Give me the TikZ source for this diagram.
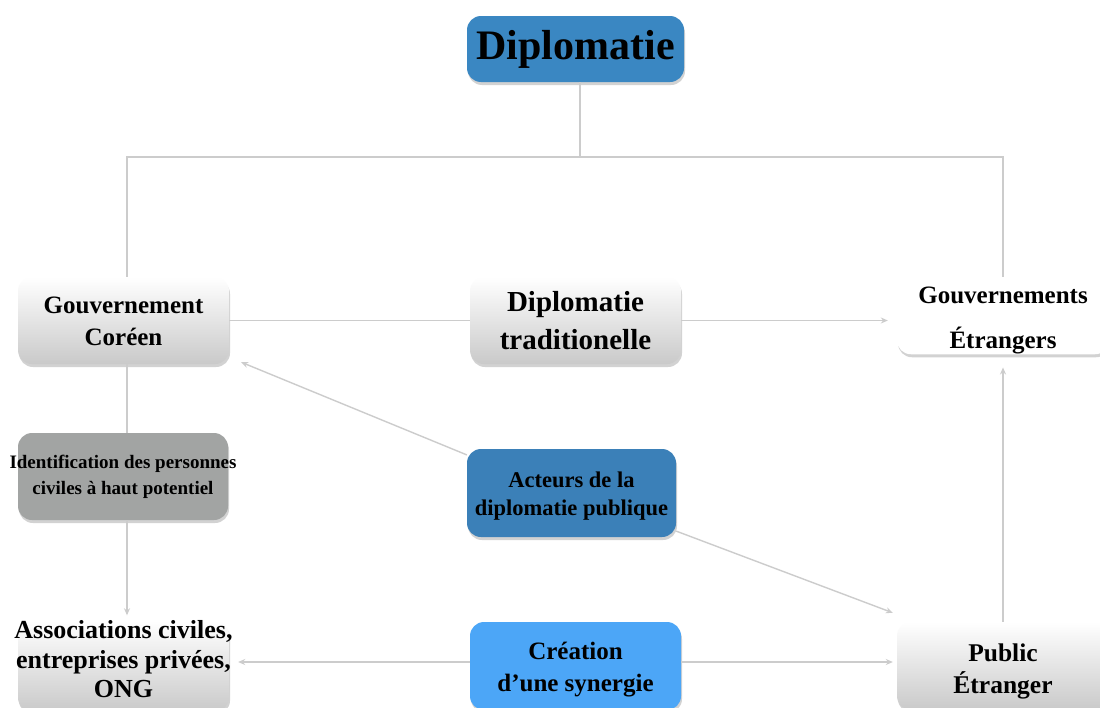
\documentclass[tikz,border=0pt]{standalone}
\usepackage{fontspec}
\setmainfont{Liberation Serif}
\usetikzlibrary{shadows,calc,arrows.meta}
\definecolor{lineg}{HTML}{CCCCCC}
\definecolor{blueA}{HTML}{3A87C2}
\definecolor{blueB}{HTML}{3B80B8}
\definecolor{blueC}{HTML}{4CA6F7}
\definecolor{greyI}{HTML}{A2A4A3}
\newcommand\ovr[1]{\makebox[0pt]{#1}}
\newcommand\dnstrut[1]{\rule{0pt}{#1}}
\newcommand\upstrut[1]{\rule[-#1]{0pt}{0pt}}
\begin{document}
\begin{tikzpicture}[x=1pt,y=-1pt,
  box/.style={rounded corners=14pt, align=center, inner sep=0pt,
    minimum width=211pt, minimum height=87pt, font=\bfseries,
    drop shadow={shadow xshift=1pt, shadow yshift=-3pt, opacity=0.35}},
  gradbox/.style={box, top color=white, bottom color=gray!42, draw=none},
  conn/.style={draw=lineg, line width=1.4pt},
  arr/.style={conn, -{Stealth[length=7pt,width=6pt]}}]
\useasboundingbox (0,0) rectangle (1100,707);
\fill[white] (0,0) rectangle (1100,707);

\node[box, fill=blueA, minimum width=217pt, minimum height=66pt,
  font=\bfseries\fontsize{42}{46}\selectfont] (dip) at (575.5,49) {Diplomatie};

\node[gradbox, font=\bfseries\fontsize{25}{32}\selectfont] (gc) at (123.5,320.5) {\dnstrut{19pt}Gouvernement\\Coréen};
\node[gradbox, font=\bfseries\fontsize{29}{38}\selectfont] (dt) at (575.5,320.5) {Diplomatie\\traditionelle};
\node[box, fill=white, minimum width=212pt, minimum height=77pt,
  font=\bfseries\fontsize{25}{45}\selectfont] (ge) at (1003,315.5) {\dnstrut{27pt}Gouvernements\\Étrangers};

\node[box, fill=greyI, minimum width=210pt, font=\bfseries\fontsize{19}{26}\selectfont] (idf) at (123,476.5) {\ovr{Identification des personnes}\\\ovr{civiles à haut potentiel}};
\node[box, fill=blueB, minimum width=209pt, minimum height=88pt, font=\bfseries\fontsize{22.5}{28}\selectfont] (act) at (571.5,493) {\dnstrut{22pt}Acteurs de la\\diplomatie publique};

\node[gradbox, minimum height=88pt, font=\bfseries\fontsize{26}{29.5}\selectfont] (asc) at (123.5,666) {\ovr{Associations civiles,}\\\ovr{entreprises privées,}\\ONG\upstrut{14pt}};
\node[box, fill=blueC, minimum height=88pt, font=\bfseries\fontsize{25}{32}\selectfont] (cre) at (575.5,666) {\dnstrut{25pt}Création\\d’une synergie};
\node[gradbox, minimum width=212pt, minimum height=88pt, font=\bfseries\fontsize{25.5}{32}\selectfont] (pub) at (1003,666) {\dnstrut{28pt}Public\\Étranger};

% top tree
\coordinate (jn) at (580,157);
\draw[conn] (dip.south -| jn) -- (jn);
\draw[conn] (gc.north -| 127,0) |- (jn) -| (ge.north);

% horizontal row
\draw[conn] (gc.east) -- (dt.west);
\draw[arr, shorten >=9pt] (dt.east) -- (ge.west |- dt.east);

% left column
\draw[conn] (gc.south -| 127,0) -- (idf.north -| 127,0);
\draw[arr, shorten >=5pt] (idf.south -| 127,0) -- (asc.north -| 127,0);

% diagonals
\draw[arr] (act.160) -- ($(gc.south east)+(12,-2)$);
\draw[arr] (act.-20) -- ($(pub.north west)+(-4,-9)$);

% bottom row
\draw[arr, shorten >=9pt] (cre.west |- 0,662) -- (asc.east |- 0,662);
\draw[arr, shorten >=4pt] (cre.east |- 0,662) -- (pub.west |- 0,662);

% right column
\draw[arr, shorten >=13pt] (pub.north) -- (ge.south);
\end{tikzpicture}
\end{document}
